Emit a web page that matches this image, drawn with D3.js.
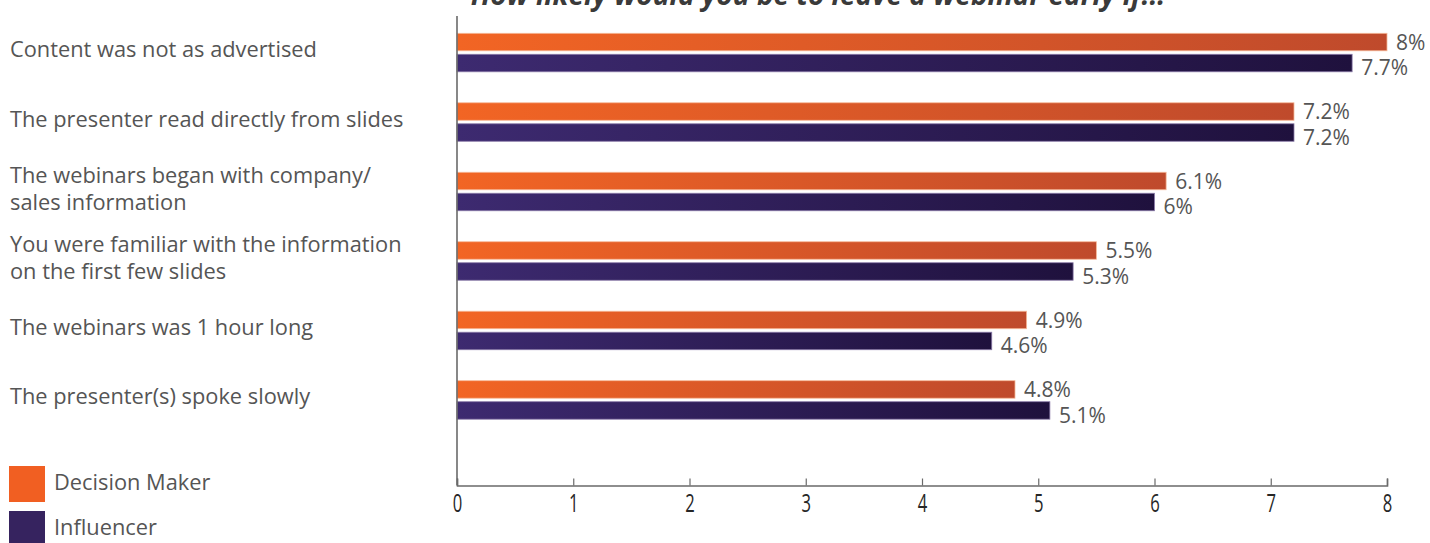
<!DOCTYPE html>
<html>
<head>
<meta charset="utf-8">
<script src="https://cdn.jsdelivr.net/npm/d3@7/dist/d3.min.js"></script>
<style>
  html, body { margin: 0; padding: 0; background: #fff; }
  svg { display: block; }
</style>
</head>
<body>
<svg id="chart" width="1430" height="543"></svg>
<script>
// Survey answers: reasons respondents would leave a webinar early
const categories = [
  "Content was not as advertised",
  "The presenter read directly from slides",
  "The webinars began with company/\nsales information",
  "You were familiar with the information\non the first few slides",
  "The webinars was 1 hour long",
  "The presenter(s) spoke slowly"
];
const seriesNames = ["Decision Maker", "Influencer"];
const decisionMaker = [8, 7.2, 6.1, 5.5, 4.9, 4.8];
const influencer = [7.7, 7.2, 6, 5.3, 4.6, 5.1];
const xTicks = [0, 1, 2, 3, 4, 5, 6, 7, 8];
const title = "How likely would you be to leave a webinar early if...";

const rows = categories.map((c, i) => ({
  category: c,
  values: [
    { series: seriesNames[0], value: decisionMaker[i] },
    { series: seriesNames[1], value: influencer[i] }
  ]
}));

const svg = d3.select("#chart");
const font = "'Open Sans', Lato, sans-serif";
const textColor = "#555555";

const x = d3.scaleLinear().domain([0, 8]).range([457, 1387]);
const y = d3.scaleBand().domain(categories).range([33.3, 419.2])
  .paddingInner(0.446).paddingOuter(0);
const ySub = d3.scaleBand().domain(seriesNames).range([0, y.bandwidth()])
  .paddingInner(0.167);

// Horizontal gradients, per bar
const defs = svg.append("defs");
const grads = {
  "Decision Maker": { id: "gradDM", from: "#f26524", to: "#bf4a2c", edge: "#f6b999", solid: "#f15f22", dy: -1 },
  "Influencer": { id: "gradIN", from: "#3d2a70", to: "#1f113d", edge: "#8a7aa8", solid: "#36235f", dy: 3.5 }
};
Object.values(grads).forEach(g => {
  const lg = defs.append("linearGradient").attr("id", g.id)
    .attr("x1", "0%").attr("x2", "100%").attr("y1", "0%").attr("y2", "0%");
  lg.append("stop").attr("offset", "0%").attr("stop-color", g.from);
  lg.append("stop").attr("offset", "100%").attr("stop-color", g.to);
});

// Title (sits at the very top edge)
svg.append("text")
  .attr("x", 818).attr("y", 5)
  .attr("text-anchor", "middle")
  .attr("font-family", font)
  .attr("font-size", 28)
  .attr("font-weight", "bold")
  .attr("font-style", "italic")
  .attr("fill", "#3a3a3a")
  .text(title);

// Bars
const groups = svg.append("g").selectAll("g.row")
  .data(rows).join("g")
  .attr("class", "row")
  .attr("transform", d => `translate(0,${y(d.category)})`);

groups.selectAll("rect")
  .data(d => d.values).join("rect")
  .attr("x", x(0))
  .attr("y", d => ySub(d.series))
  .attr("width", d => x(d.value) - x(0))
  .attr("height", ySub.bandwidth())
  .attr("fill", d => `url(#${grads[d.series].id})`)
  .attr("stroke", d => grads[d.series].edge)
  .attr("stroke-width", 0.8);

// Value labels
groups.selectAll("text.val")
  .data(d => d.values).join("text")
  .attr("class", "val")
  .attr("x", d => x(d.value) + 9)
  .attr("y", d => ySub(d.series) + ySub.bandwidth() + grads[d.series].dy)
  .attr("font-family", font)
  .attr("font-size", 21)
  .attr("fill", textColor)
  .text(d => d.value + "%");

// Category labels
svg.append("g").selectAll("text.cat")
  .data(categories).join("text")
  .attr("class", "cat")
  .attr("font-family", font)
  .attr("font-size", 21.8)
  .attr("fill", textColor)
  .each(function (d) {
    const lines = d.split("\n");
    const lh = 27;
    const base = y(d) + y.bandwidth() / 2 + 4.5 - (lines.length - 1) * lh / 2;
    d3.select(this).selectAll("tspan").data(lines).join("tspan")
      .attr("x", 10)
      .attr("y", (l, i) => base + i * lh)
      .text(l => l);
  });

// Axes
const axisY = 485.5;
svg.append("line")
  .attr("x1", x(0)).attr("x2", x(0))
  .attr("y1", 16).attr("y2", axisY)
  .attr("stroke", "#6a6a6a").attr("stroke-width", 1.6);

const xAxis = svg.append("g")
  .attr("transform", `translate(0,${axisY})`)
  .call(d3.axisBottom(x).tickValues(xTicks).tickFormat(d3.format("d"))
    .tickSizeInner(-7).tickSizeOuter(-7).tickPadding(8));
xAxis.select(".domain").attr("stroke", "#6a6a6a").attr("stroke-width", 1.6);
xAxis.selectAll(".tick line").attr("stroke", "#6a6a6a").attr("stroke-width", 1.2);
xAxis.selectAll(".tick text")
  .attr("font-family", font)
  .attr("font-size", 26)
  .attr("fill", "#262626")
  .attr("transform", "scale(0.64,1)");

// Legend
const legend = svg.append("g").selectAll("g.leg")
  .data(seriesNames).join("g")
  .attr("class", "leg")
  .attr("transform", (d, i) => `translate(9,${466 + i * 45})`);
legend.append("rect")
  .attr("width", 36).attr("height", 36)
  .attr("fill", d => grads[d].solid);
legend.append("text")
  .attr("x", 45).attr("y", 23.5)
  .attr("font-family", font)
  .attr("font-size", 21.8)
  .attr("fill", textColor)
  .text(d => d);
</script>
</body>
</html>
